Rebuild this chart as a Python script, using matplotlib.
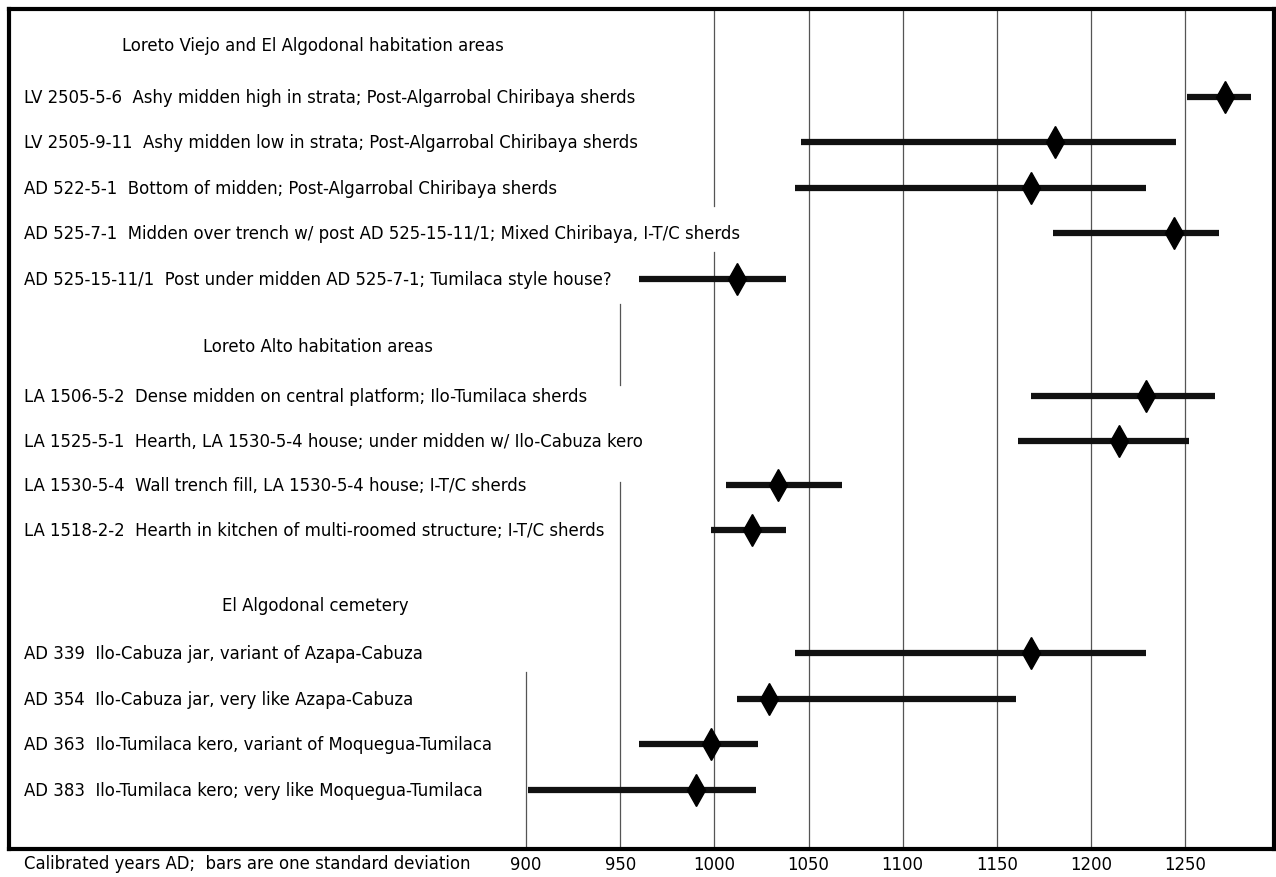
import numpy as np
import matplotlib.pyplot as plt

# шрифт: узкий гротеск как в оригинале
plt.rcParams['font.family'] = ['DejaVu Sans']
plt.rcParams['font.stretch'] = 'condensed'

# Данные: секции, подписи образцов, интервал (1 sigma) и медиана
sections = ['Loreto Viejo and El Algodonal habitation areas',
            'Loreto Alto habitation areas',
            'El Algodonal cemetery']

labels = [
    ['LV 2505-5-6  Ashy midden high in strata; Post-Algarrobal Chiribaya sherds',
     'LV 2505-9-11  Ashy midden low in strata; Post-Algarrobal Chiribaya sherds',
     'AD 522-5-1  Bottom of midden; Post-Algarrobal Chiribaya sherds',
     'AD 525-7-1  Midden over trench w/ post AD 525-15-11/1; Mixed Chiribaya, I-T/C sherds',
     'AD 525-15-11/1  Post under midden AD 525-7-1; Tumilaca style house?'],
    ['LA 1506-5-2  Dense midden on central platform; Ilo-Tumilaca sherds',
     'LA 1525-5-1  Hearth, LA 1530-5-4 house; under midden w/ Ilo-Cabuza kero',
     'LA 1530-5-4  Wall trench fill, LA 1530-5-4 house; I-T/C sherds',
     'LA 1518-2-2  Hearth in kitchen of multi-roomed structure; I-T/C sherds'],
    ['AD 339  Ilo-Cabuza jar, variant of Azapa-Cabuza',
     'AD 354  Ilo-Cabuza jar, very like Azapa-Cabuza',
     'AD 363  Ilo-Tumilaca kero, variant of Moquegua-Tumilaca',
     'AD 383  Ilo-Tumilaca kero; very like Moquegua-Tumilaca'],
]

low = [[1251, 1046, 1043, 1180, 960],
       [1168, 1161, 1006, 998],
       [1043, 1012, 960, 901]]
high = [[1285, 1245, 1229, 1268, 1038],
        [1266, 1252, 1068, 1038],
        [1229, 1160, 1023, 1022]]
mid = [[1271, 1181, 1168, 1244, 1012],
       [1229, 1215, 1034, 1020],
       [1168, 1029, 998, 990]]

ticks = [900, 950, 1000, 1050, 1100, 1150, 1200, 1250]
xlabel = 'Calibrated years AD;  bars are one standard deviation'

# раскладка по вертикали (в шагах строк)
first_offset = [1.14, 1.1, 1.05]
row_step = [1.0, 0.98, 1.0]
gaps = [1.475, 1.66]
y_top, y_bottom = -0.79, 17.67
text_x = 633.5
title_x = [685.5, 728.5, 738.6]

fig = plt.figure(figsize=(12.76, 8.78), dpi=100)
ax = fig.add_axes([0.0071, 0.0319, 0.9913, 0.9567])
ax.set_xlim(625.5, 1297.1)
ax.set_ylim(y_bottom, y_top)

# сетка: линии прерываются там, где их перекрывает текст
grid_segments = {900: [(13.78, y_bottom)],
                 950: [(5.69, 7.47), (9.6, y_bottom)],
                 1000: [(y_top, 3.54), (4.55, y_bottom)]}
for t in ticks:
    for y0, y1 in grid_segments.get(t, [(y_top, y_bottom)]):
        ax.plot([t, t], [y0, y1], color='#555555', lw=0.9, zorder=1)

fs = 13.2
y = 0.0
for s, name in enumerate(sections):
    if s > 0:
        y = y + gaps[s - 1]
    ax.text(title_x[s], y, name, fontsize=fs, va='center', ha='left')
    for i, lab in enumerate(labels[s]):
        yy = y + first_offset[s] + i * row_step[s]
        ax.text(text_x, yy, lab, fontsize=fs, va='center', ha='left')
        ax.plot([low[s][i], high[s][i]], [yy, yy], color='#111111', lw=4.5,
                solid_capstyle='butt', zorder=2)
        ax.plot(mid[s][i], yy, marker='d', ms=16, color='black', zorder=3)
    y = yy

ax.set_xticks(ticks)
ax.set_xticklabels([str(t) for t in ticks], fontsize=fs)
ax.tick_params(axis='x', length=0, pad=4)
ax.set_yticks([])
for sp in ax.spines.values():
    sp.set_linewidth(3)
ax.text(text_x, -0.006, xlabel, transform=ax.get_xaxis_transform(), fontsize=fs,
        va='top', ha='left')

fig.savefig('out.png', dpi=100)
